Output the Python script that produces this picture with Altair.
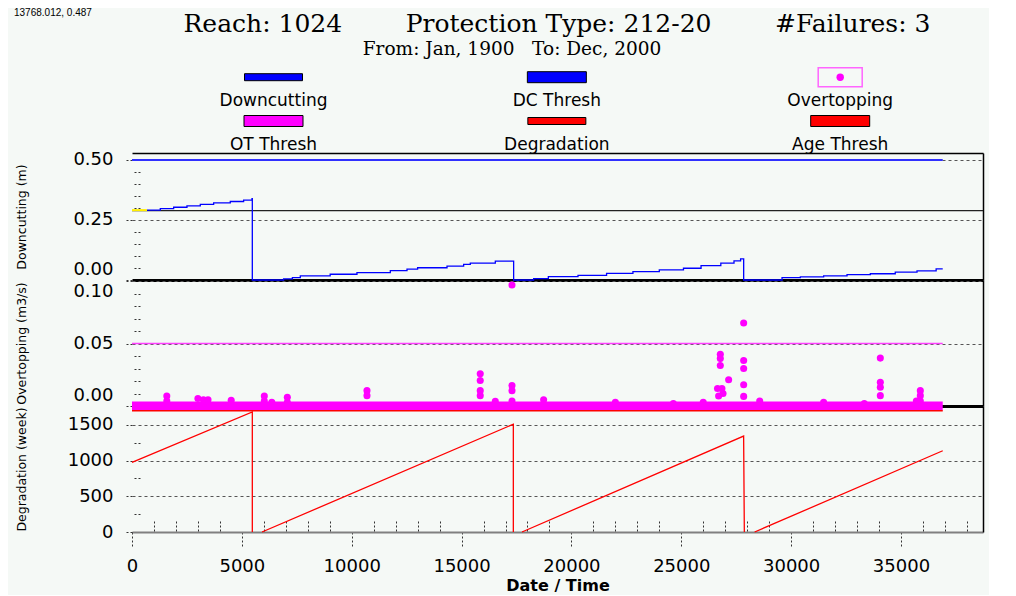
import altair as alt
import pandas as pd

# ---------------- data ----------------
NB = "\u00a0"
title_text = "Reach: 1024" + NB * 8 + "Protection Type: 212-20" + NB * 8 + "#Failures: 3"
subtitle_text = "From: Jan, 1900" + NB * 3 + "To: Dec, 2000"
cursor_text = "13768.012, 0.487"

legend_names = ["Downcutting", "DC Thresh", "Overtopping", "OT Thresh", "Degradation", "Age Thresh"]

series_end_day = 36900
dc_thresh = 0.50
ot_thresh = 0.05
age_thresh = 1700
dc_initial = 0.289

# Downcutting (m), stepped series (value holds from each day on)
dc_start_days = [0, 683]
dc_start_vals = [0.291, 0.291]
dc_days = [683, 1288, 1895, 2502, 3109, 3716, 4474, 5080, 5462,
           5476, 6900, 7300, 7660, 9020, 10240, 11757, 12517, 13000, 14338, 15095, 15398, 16536,
           17370, 18280, 18950, 20300, 21600, 22800, 24000, 25100, 25900, 26800, 27400, 27700,
           27840, 29586, 30420, 31480, 32545, 33605, 34740, 35730, 36600, 36900]
dc_vals = [0.291, 0.297, 0.303, 0.309, 0.315, 0.321, 0.327, 0.333, 0.339,
           0.000, 0.005, 0.010, 0.017, 0.024, 0.031, 0.039, 0.045, 0.051, 0.058, 0.065, 0.070, 0.079,
           0.000, 0.006, 0.014, 0.019, 0.028, 0.035, 0.042, 0.049, 0.060, 0.070, 0.080, 0.088,
           0.000, 0.010, 0.013, 0.017, 0.022, 0.026, 0.033, 0.038, 0.046, 0.046]

# Overtopping (m3/s): near-zero flows all along + events above zero
ot_base_days = [0, 36900]
ot_base_vals = [0.0, 0.0]
ot_days = [1584, 1584, 3000, 3250, 3460, 4515, 6022, 6022, 6363, 7070, 7070,
           10695, 10695, 15850, 15850, 15850, 15850, 16536,
           17295, 17295, 17295, 17295, 18735, 22000, 24640, 26000,
           26650, 26700, 26777, 26777, 26777, 26850, 26900, 27156,
           27840, 27840, 27840, 27840, 27840, 28570, 31480, 33330,
           34060, 34060, 34060, 34060, 35700, 35880, 35880, 35880]
ot_vals = [0.008, 0.004, 0.006, 0.005, 0.005, 0.0045, 0.008, 0.004, 0.003, 0.007, 0.003,
           0.0123, 0.0083, 0.0258, 0.0204, 0.0123, 0.0083, 0.0037,
           0.097, 0.0164, 0.0123, 0.004, 0.005, 0.003, 0.002, 0.003,
           0.014, 0.008, 0.0414, 0.038, 0.0325, 0.014, 0.010, 0.021,
           0.0666, 0.0365, 0.030, 0.017, 0.0077, 0.004, 0.003, 0.002,
           0.0384, 0.019, 0.015, 0.0083, 0.004, 0.0123, 0.0083, 0.004]

# Degradation (week): saw-tooth segments
deg_seg = [1, 1, 1, 2, 2, 2, 3, 3, 3, 4, 4]
deg_days = [0, 5476, 5476, 5917, 17356, 17356, 17750, 27838, 27870, 28339, 36900]
deg_vals = [975, 1682, 0, 0, 1510, 0, 0, 1344, 0, 0, 1138]

# axis tick values
top_major = [0.0, 0.25, 0.50]
top_minor = [0.05, 0.10, 0.15, 0.20, 0.30, 0.35, 0.40, 0.45]
mid_major = [0.0, 0.05, 0.10]
mid_minor = [0.01, 0.02, 0.03, 0.04, 0.06, 0.07, 0.08, 0.09]
bot_major = [0, 500, 1000, 1500]
bot_minor = [250, 750, 1250]
x_major = [0, 5000, 10000, 15000, 20000, 25000, 30000, 35000]
x_minor = [v for v in range(1000, 39000, 1000) if v % 5000 != 0]

# ---------------- styles ----------------
BG = "#f5f9f6"
SANS = "DejaVu Sans"
SERIF = "DejaVu Serif"
BLUE = "#0000ff"
MAGENTA = "#ff00ff"
RED = "#ff0000"
legend_colors = {"Downcutting": BLUE, "DC Thresh": BLUE, "Overtopping": MAGENTA,
                 "OT Thresh": MAGENTA, "Degradation": RED, "Age Thresh": RED}

W = 851
XMAX = 38733
H_TOP, H_MID, H_BOT = 127, 126, 126
HEADER_H = 145

xscale = alt.Scale(domain=[0, XMAX], nice=False, zero=False)
frame = pd.DataFrame({"x": [0.0], "y": [0.0]})


def y_axis_layers(yscale, major, minor, fmt, title, height, offset_conds):
    major_axis = alt.Axis(
        values=major, format=fmt, orient="left",
        labelFont=SANS, labelFontSize=18, labelColor="black", labelPadding=11,
        labelOffset={"condition": offset_conds, "value": 0},
        labelOverlap=False, labelFlush=False,
        tickSize=8, tickDash=[2, 2], tickColor="#333333", tickWidth=1,
        domain=False, grid=True, gridDash=[3, 3], gridColor="#555555", gridWidth=1,
        title=title, titleFont=SANS, titleFontSize=12.5, titleFontWeight="normal",
        titleColor="black", titleAngle=270, titleX=-111, titleY=height / 2,
        titleAlign="center", titleBaseline="middle",
    )
    minor_axis = alt.Axis(
        values=minor, orient="left", offset=-8, tickSize=7, tickDash=[2, 2],
        tickColor="#333333", labels=False, domain=False, grid=False, title=None,
    )
    right_axis = alt.Axis(
        orient="right", domain=True, domainColor="black", domainWidth=1.5,
        ticks=False, labels=False, grid=False, title=None,
    )
    out = []
    for ax in (major_axis, minor_axis, right_axis):
        out.append(
            alt.Chart(frame).mark_point(opacity=0).encode(
                x=alt.X("x:Q", scale=xscale, axis=None),
                y=alt.Y("y:Q", scale=yscale, axis=ax),
            )
        )
    return out


def x_axis_layer(yscale, axis):
    return alt.Chart(frame).mark_point(opacity=0).encode(
        x=alt.X("x:Q", scale=xscale, axis=axis),
        y=alt.Y("y:Q", scale=yscale, axis=None),
    )


def hrule(value, yscale, color, width):
    df = pd.DataFrame({"x": [0], "x2": [series_end_day], "y": [value]})
    return alt.Chart(df).mark_rule(color=color, strokeWidth=width).encode(
        x=alt.X("x:Q", scale=xscale, axis=None), x2="x2:Q",
        y=alt.Y("y:Q", scale=yscale, axis=None))


thick_black = dict(domain=True, domainColor="black", domainWidth=3, ticks=False,
                   labels=False, grid=False, title=None)

# ---------------- header: title + legend ----------------
leg = pd.DataFrame({"name": legend_names,
                    "col": [i % 3 for i in range(len(legend_names))],
                    "row": [i // 3 for i in range(len(legend_names))]})
lx = alt.X("col:Q", scale=alt.Scale(domain=[0, 2], range=[141.5, 708.2]), axis=None)
ly = alt.Y("row:Q", scale=alt.Scale(domain=[0, 1], range=[69.2, 113]), axis=None)
cscale = alt.Scale(domain=legend_names, range=[legend_colors[n] for n in legend_names])

thin_names = ["Downcutting", "Degradation"]
thick_names = ["DC Thresh", "OT Thresh", "Age Thresh"]

sw_thin = alt.Chart(leg).transform_filter(
    alt.FieldOneOfPredicate(field="name", oneOf=thin_names)
).mark_rect(width=58, height=7, stroke="black", strokeWidth=1).encode(
    x=lx, y=ly, fill=alt.Fill("name:N", scale=cscale, legend=None))
sw_thick = alt.Chart(leg).transform_filter(
    alt.FieldOneOfPredicate(field="name", oneOf=thick_names)
).mark_rect(width=59, height=11, stroke="black", strokeWidth=1).encode(
    x=lx, y=ly, fill=alt.Fill("name:N", scale=cscale, legend=None))
sw_box = alt.Chart(leg).transform_filter(
    alt.FieldEqualPredicate(field="name", equal="Overtopping")
).mark_rect(width=44, height=19, stroke="#ff66ff", strokeWidth=1.5, fillOpacity=0).encode(
    x=lx, y=ly)
sw_dot = alt.Chart(leg).transform_filter(
    alt.FieldEqualPredicate(field="name", equal="Overtopping")
).mark_circle(size=55, opacity=1, color=MAGENTA).encode(x=lx, y=ly)
leg_text = alt.Chart(leg).mark_text(dy=23.5, font=SANS, fontSize=17, color="black",
                                    align="center", baseline="middle").encode(
    x=lx, y=ly, text="name:N")

tdf = pd.DataFrame({"t": [title_text], "s": [subtitle_text], "c": [cursor_text]})
t_main = alt.Chart(tdf).mark_text(font=SERIF, fontSize=25, color="black", align="center",
                                  baseline="alphabetic").encode(
    x=alt.value(425), y=alt.value(23.5), text="t:N")
t_sub = alt.Chart(tdf).mark_text(font=SERIF, fontSize=18.5, color="black", align="center",
                                 baseline="alphabetic").encode(
    x=alt.value(380), y=alt.value(47), text="s:N")
t_cur = alt.Chart(tdf).mark_text(font="Liberation Sans", fontSize=10, color="black", align="left",
                                 baseline="middle").encode(
    x=alt.value(-118), y=alt.value(5), text="c:N")

header = alt.layer(sw_thin, sw_thick, sw_box, sw_dot, leg_text, t_main, t_sub, t_cur).properties(
    width=W, height=HEADER_H)

# ---------------- top panel: Downcutting ----------------
ys_top = alt.Scale(domain=[0, 0.529], nice=False, zero=False)
dc_df = pd.DataFrame({"x": dc_days, "y": dc_vals, "i": range(len(dc_days))})
dc_start_df = pd.DataFrame({"x": dc_start_days, "y": dc_start_vals})
ref_df = pd.DataFrame({"y": [dc_initial]})

top_layers = y_axis_layers(ys_top, top_major, top_minor, ".2f", "Downcutting (m)", H_TOP,
                           [{"test": "datum.value == 0", "value": -11}])
top_layers += [
    x_axis_layer(ys_top, alt.Axis(orient="top", domain=True, domainColor="black", domainWidth=1.5,
                                  ticks=False, labels=False, grid=False, title=None)),
    x_axis_layer(ys_top, alt.Axis(orient="bottom", **thick_black)),
    alt.Chart(ref_df).mark_rule(color="#222222", strokeWidth=1.2).encode(
        y=alt.Y("y:Q", scale=ys_top, axis=None)),
    hrule(dc_thresh, ys_top, "#3030ff", 2),
    alt.Chart(dc_df).mark_line(color=BLUE, strokeWidth=1.3, interpolate="step-after").encode(
        x=alt.X("x:Q", scale=xscale, axis=None), y=alt.Y("y:Q", scale=ys_top, axis=None),
        order="i:Q"),
    alt.Chart(dc_start_df).mark_line(color="#ffee00", strokeWidth=2).encode(
        x=alt.X("x:Q", scale=xscale, axis=None), y=alt.Y("y:Q", scale=ys_top, axis=None)),
]
top = alt.layer(*top_layers).resolve_axis(x="independent", y="independent").properties(
    width=W, height=H_TOP)

# ---------------- middle panel: Overtopping ----------------
ys_mid = alt.Scale(domain=[0, 0.101], nice=False, zero=False)
ot_df = pd.DataFrame({"x": ot_days, "y": ot_vals})
ot_base_df = pd.DataFrame({"x": ot_base_days, "y": ot_base_vals})

mid_layers = y_axis_layers(ys_mid, mid_major, mid_minor, ".2f", "Overtopping (m3/s)", H_MID,
                           [{"test": "datum.value == 0", "value": -11},
                            {"test": "datum.value > 0.099", "value": 10}])
mid_layers += [
    x_axis_layer(ys_mid, alt.Axis(orient="bottom", **thick_black)),
    hrule(ot_thresh, ys_mid, "#ff40ff", 1.5),
    alt.Chart(ot_base_df).mark_line(color=MAGENTA, strokeWidth=9, strokeCap="butt").encode(
        x=alt.X("x:Q", scale=xscale, axis=None), y=alt.Y("y:Q", scale=ys_mid, axis=None)),
    alt.Chart(ot_df).mark_circle(color=MAGENTA, size=50, opacity=1).encode(
        x=alt.X("x:Q", scale=xscale, axis=None), y=alt.Y("y:Q", scale=ys_mid, axis=None)),
]
mid = alt.layer(*mid_layers).resolve_axis(x="independent", y="independent").properties(
    width=W, height=H_MID)

# ---------------- bottom panel: Degradation ----------------
ys_bot = alt.Scale(domain=[0, 1765], nice=False, zero=False)
deg_df = pd.DataFrame({"x": deg_days, "y": deg_vals, "seg": deg_seg, "i": range(len(deg_days))})

bot_layers = y_axis_layers(ys_bot, bot_major, bot_minor, "d", "Degradation (week)", H_BOT,
                           [{"test": "datum.value < -1", "value": 0}])
bot_layers += [
    x_axis_layer(ys_bot, alt.Axis(
        orient="bottom", values=x_major, format="d", domain=True, domainColor="#808080",
        domainWidth=2, tickSize=15, tickDash=[2, 2], tickColor="#333333", grid=False,
        labelFont=SANS, labelFontSize=18, labelColor="black", labelPadding=10,
        labelFlush=False, labelOverlap=False,
        title="Date / Time", titleFont=SANS, titleFontSize=16, titleFontWeight="bold",
        titleColor="black", titleY=53, titleBaseline="middle")),
    x_axis_layer(ys_bot, alt.Axis(
        orient="bottom", values=x_minor, offset=-11, tickSize=11, tickDash=[2, 2],
        tickColor="#333333", domain=False, labels=False, grid=False, title=None)),
    hrule(age_thresh, ys_bot, RED, 1.5),
    alt.Chart(deg_df).mark_line(color=RED, strokeWidth=1.3).encode(
        x=alt.X("x:Q", scale=xscale, axis=None), y=alt.Y("y:Q", scale=ys_bot, axis=None),
        detail="seg:N", order="i:Q"),
]
bot = alt.layer(*bot_layers).resolve_axis(x="independent", y="independent").properties(
    width=W, height=H_BOT)

chart = alt.vconcat(header, top, mid, bot, spacing=0, bounds="flush").properties(
    padding={"left": 6, "top": 0, "right": 5, "bottom": 2}
).configure(background=BG).configure_view(stroke=None)

chart.save("out.html", embed_options={"renderer": "svg", "actions": False})
